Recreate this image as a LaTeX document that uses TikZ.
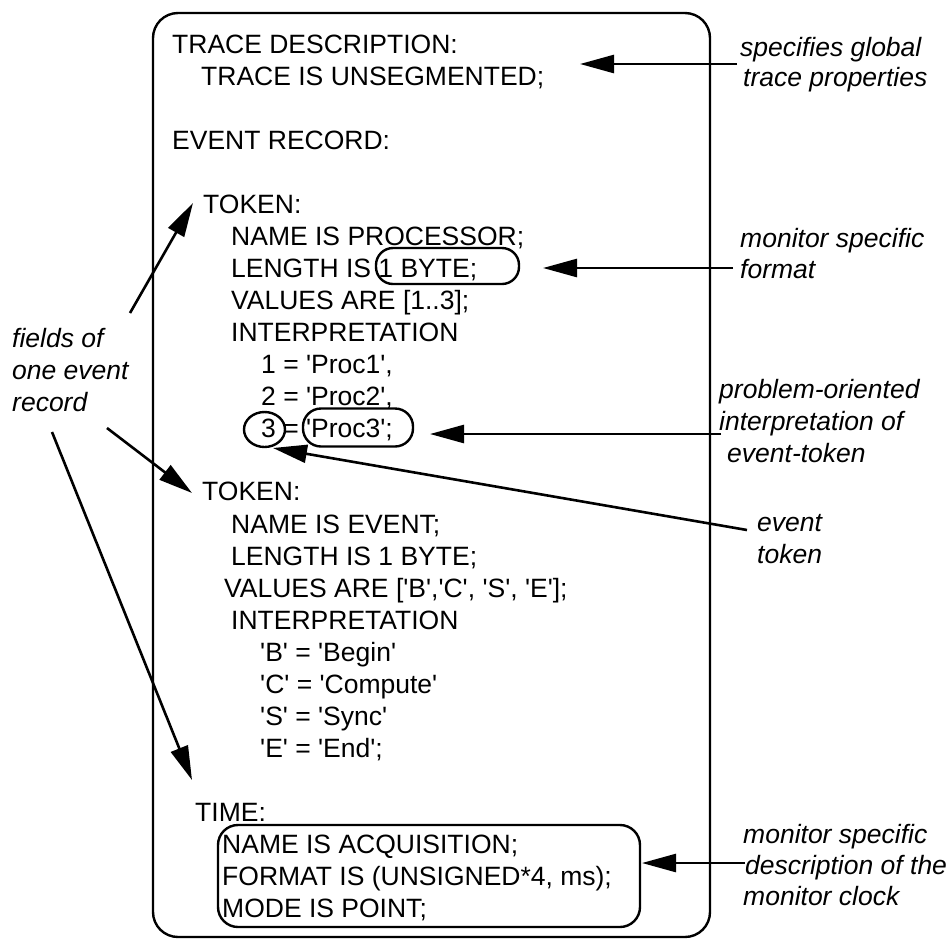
\documentclass[tikz,border=0pt]{standalone}
\usepackage{fontspec}
\setmainfont{Liberation Sans}
\usetikzlibrary{arrows.meta,shapes.geometric}
\newcommand\sqt{\textquotesingle}
\begin{document}
\begin{tikzpicture}[x=1pt,y=-1pt,
  code/.style={anchor=base west, inner sep=0pt, font=\fontsize{26.5}{32}\selectfont},
  note/.style={anchor=base west, inner sep=0pt, font=\fontsize{26.5}{32}\selectfont\itshape},
  ring/.style={draw, line width=2.4pt, inner sep=0pt},
  pointer/.style={line width=2.6pt, -{Triangle[length=34pt,width=18pt]}},
  leader/.style={line width=2.6pt}]
\useasboundingbox (0,0) rectangle (948,938);

% outer frame of the event trace description
\node[ring, rounded corners=25pt, minimum width=557pt, minimum height=924pt] (frame) at (431.5,475) {};

% description text
\node[code] (t1)  at (172,53)  {TRACE DESCRIPTION:};
\node[code] (t2)  at (201,85)  {TRACE IS UNSEGMENTED;};
\node[code] (t3)  at (172,149) {EVENT RECORD:};
\node[code] (t4)  at (203,213) {TOKEN:};
\node[code] (t5)  at (231,245) {NAME IS PROCESSOR;};
\node[code] (t6)  at (231,277) {LENGTH IS 1 BYTE;};
\node[code] (t7)  at (231,309) {VALUES ARE [1..3];};
\node[code] (t8)  at (231,341) {INTERPRETATION};
\node[code] (t9)  at (261,373) {1 = \sqt Proc1\sqt,};
\node[code] (t10) at (261,405) {2 = \sqt Proc2\sqt,};
\node[code] (t11) at (261,437) {3 = \sqt Proc3\sqt;};
\node[code] (t12) at (202,500) {TOKEN:};
\node[code] (t13) at (231,533) {NAME IS EVENT;};
\node[code] (t14) at (231,565) {LENGTH IS 1 BYTE;};
\node[code] (t15) at (224,597) {VALUES ARE [\sqt B\sqt,\sqt C\sqt, \sqt S\sqt, \sqt E\sqt];};
\node[code] (t16) at (231,629) {INTERPRETATION};
\node[code] (t17) at (260,661) {\sqt B\sqt\ = \sqt Begin\sqt};
\node[code] (t18) at (260,693) {\sqt C\sqt\ = \sqt Compute\sqt};
\node[code] (t19) at (260,725) {\sqt S\sqt\ = \sqt Sync\sqt};
\node[code] (t20) at (260,757) {\sqt E\sqt\ = \sqt End\sqt;};
\node[code] (t21) at (195,821) {TIME:};
\node[code] (t22) at (222,853) {NAME IS ACQUISITION;};
\node[code] (t23) at (222,885) {FORMAT IS (UNSIGNED*4, ms);};
\node[code] (t24) at (222,917) {MODE IS POINT;};

% highlighted parts
\node[ring, rounded corners=17pt, minimum width=143pt, minimum height=36pt] (byteBox) at (447.5,266) {};
\node[ring, ellipse, minimum width=41pt, minimum height=35pt] (threeRing) at (264.5,429.5) {};
\node[ring, rounded corners=18pt, minimum width=110pt, minimum height=38pt] (procBox) at (358,427.5) {};
\node[ring, rounded corners=20pt, minimum width=422pt, minimum height=102pt] (timeBox) at (429,876) {};

% annotations
\node[note] (n1a) at (740,56)  {specifies global};
\node[note] (n1b) at (743,86)  {trace properties};
\node[note] (n2a) at (740,247) {monitor specific};
\node[note] (n2b) at (740,278) {format};
\node[note] (n3a) at (719,398) {problem-oriented};
\node[note] (n3b) at (719,430) {interpretation of};
\node[note] (n3c) at (727,462) {event-token};
\node[note] (n4a) at (757,531) {event};
\node[note] (n4b) at (757,563) {token};
\node[note] (n5a) at (743,843) {monitor specific};
\node[note] (n5b) at (745,874) {description of the};
\node[note] (n5c) at (743,905) {monitor clock};
\node[note] (n6a) at (12,347)  {fields of};
\node[note] (n6b) at (12,379)  {one event};
\node[note] (n6c) at (12,411)  {record};

% connector end points
\coordinate (s1) at (737,64);  \coordinate (e1) at (580,64);
\coordinate (s2) at (733,268); \coordinate (e2) at (543,268);
\coordinate (s3) at (721,434); \coordinate (e3) at (430,434);
\coordinate (s4) at (747,530); \coordinate (e4) at (273,448);
\coordinate (s5) at (130,313); \coordinate (e5) at (193,203);
\coordinate (s6) at (107,428); \coordinate (e6) at (192,493);
\coordinate (s7) at (52,432);  \coordinate (e7) at (192,780);
\coordinate (s8) at (745,863); \coordinate (e8) at (642,863);

\draw[pointer] (s1) -- (e1);
\draw[pointer] (s2) -- (e2);
\draw[pointer] (s3) -- (e3);
\draw[pointer] (s4) -- (e4);
\draw[pointer] (s5) -- (e5);
\draw[pointer] (s6) -- (e6);
\draw[pointer] (s7) -- (e7);
\draw[pointer] (s8) -- (e8);
\end{tikzpicture}
\end{document}
